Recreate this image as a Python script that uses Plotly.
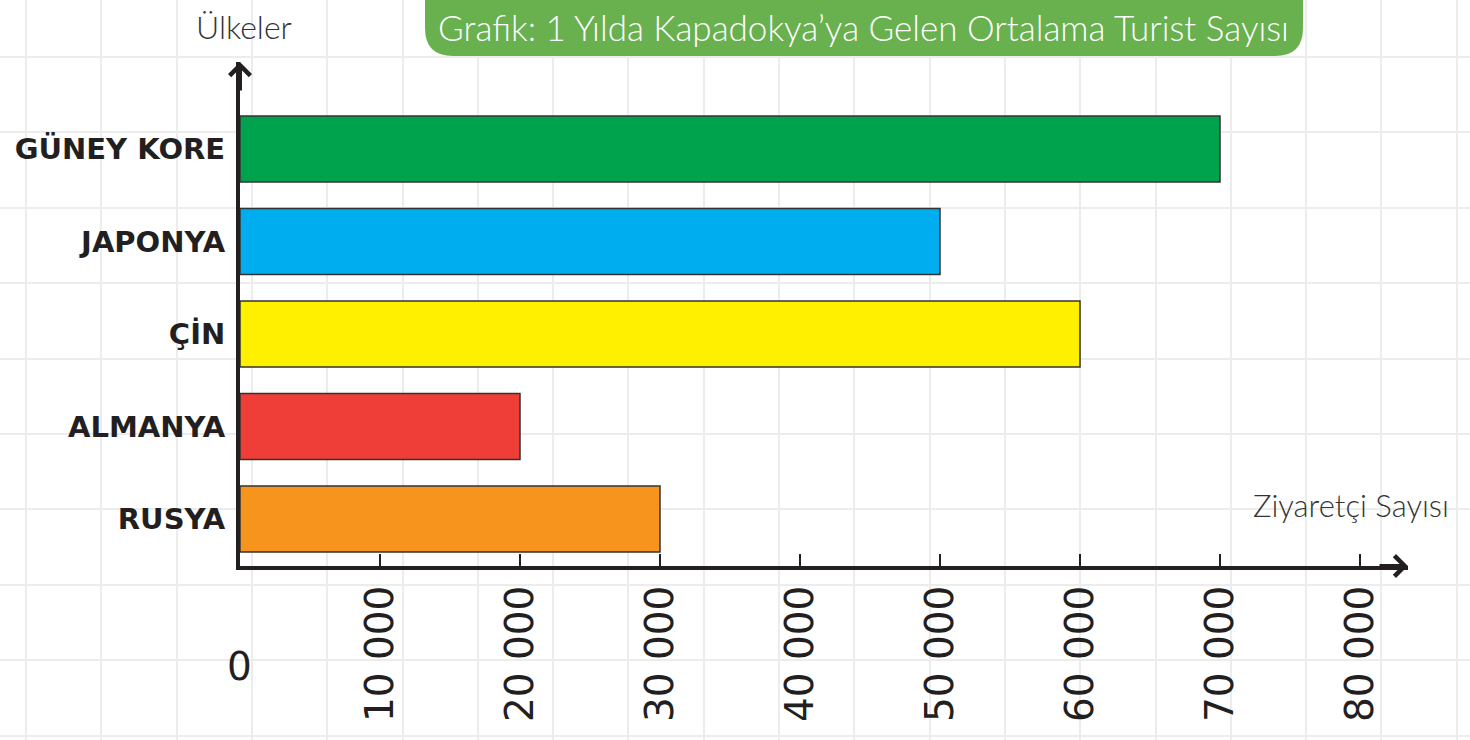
import plotly.graph_objects as go

# ---- data ----
countries = ["RUSYA", "ALMANYA", "ÇİN", "JAPONYA", "GÜNEY KORE"]
visitors = [30000, 20000, 60000, 50000, 70000]
bar_colors = ["#f7941d", "#ef3e37", "#fff000", "#00aeef", "#00a34d"]
tick_values = [10000, 20000, 30000, 40000, 50000, 60000, 70000, 80000]
tick_labels = ["10 000", "20 000", "30 000", "40 000", "50 000", "60 000", "70 000", "80 000"]
title_text = "Grafik: 1 Yılda Kapadokya’ya Gelen Ortalama Turist Sayısı"
y_title = "Ülkeler"
x_title = "Ziyaretçi Sayısı"

W, H = 1470, 740
INK = "#231f20"

def px(x):
    return x / W

def py(y):
    return 1 - y / H

fig = go.Figure()

# background grid (paper "graph paper") on first axes pair
fig.add_trace(go.Scatter(x=[None], y=[None], xaxis="x", yaxis="y", showlegend=False, hoverinfo="skip"))

# bars on second axes pair
fig.add_trace(go.Bar(
    x=visitors, y=countries, orientation="h",
    marker=dict(color=bar_colors, line=dict(color="#333333", width=1.5)),
    xaxis="x2", yaxis="y2", showlegend=False, width=0.715,
))

x_domain = [px(240), px(1408)]
y_domain = [py(566), py(62)]
x_max = (1408 - 240) / 140 * 10000

fig.update_layout(
    width=W, height=H,
    margin=dict(l=0, r=0, t=0, b=0),
    paper_bgcolor="white",
    plot_bgcolor="rgba(0,0,0,0)",
    xaxis=dict(domain=[0, 1], range=[0, W], tick0=26, dtick=75.3, showgrid=True,
               gridcolor="#ececec", gridwidth=2, zeroline=False, showticklabels=False,
               fixedrange=True),
    yaxis=dict(domain=[0, 1], range=[H, 0], tick0=57, dtick=75.4, showgrid=True,
               gridcolor="#ececec", gridwidth=2, zeroline=False, showticklabels=False,
               fixedrange=True),
    xaxis2=dict(domain=x_domain, range=[0, x_max], anchor="y2",
                tickvals=tick_values, ticktext=tick_labels, tickangle=-90,
                ticks="inside", ticklen=12, tickwidth=2, tickcolor=INK,
                showline=True, linewidth=4, linecolor=INK,
                showgrid=False, zeroline=False,
                tickfont=dict(family="DejaVu Sans", size=39, color=INK),
                ticklabelstandoff=0),
    yaxis2=dict(domain=y_domain, range=[-0.508, 4.94], anchor="x2",
                type="category", categoryorder="array", categoryarray=countries,
                showline=True, linewidth=4, linecolor=INK, ticks="",
                showgrid=False, zeroline=False,
                tickfont=dict(family="DejaVu Sans", size=29, color=INK, weight="bold"),
                ticklabelstandoff=5),
    bargap=0.285,
)

# title box with rounded bottom corners
x0, x1 = px(425), px(1303)
yb, yt = py(56), py(-20)
rx, ry = 28 / W, 28 / H
path = (f"M {x0},{yt} L {x0},{yb + ry} Q {x0},{yb} {x0 + rx},{yb} "
        f"L {x1 - rx},{yb} Q {x1},{yb} {x1},{yb + ry} L {x1},{yt} Z")
fig.add_shape(type="path", path=path, xref="paper", yref="paper",
              fillcolor="#69b04f", line=dict(width=0), layer="above")

fig.add_annotation(text=title_text, x=px(863), y=py(27), xref="paper", yref="paper",
                   showarrow=False, font=dict(family="Lato", size=35, color="white", weight=300),
                   xanchor="center", yanchor="middle")

# axis titles
fig.add_annotation(text=y_title, x=px(244), y=py(27), xref="paper", yref="paper",
                   showarrow=False, font=dict(family="Lato", size=32, color="#333333", weight=300),
                   xanchor="center", yanchor="middle")
fig.add_annotation(text=x_title, x=px(1451), y=py(505), xref="paper", yref="paper",
                   showarrow=False, font=dict(family="Lato", size=31, color="#333333", weight=300),
                   xanchor="right", yanchor="middle")

# zero label
fig.add_annotation(text="0", x=0, y=py(666), xref="x2", yref="paper",
                   showarrow=False, font=dict(family="DejaVu Sans", size=39, color=INK),
                   xanchor="center", yanchor="middle")

# arrow heads on axes
fig.add_annotation(x=1, y=0, xref="x2 domain", yref="y2 domain", ax=-30, ay=0,
                   text="", showarrow=True, arrowhead=4, arrowsize=1, arrowwidth=4,
                   arrowcolor=INK)
fig.add_annotation(x=0, y=1, xref="x2 domain", yref="y2 domain", ax=0, ay=30,
                   text="", showarrow=True, arrowhead=4, arrowsize=1, arrowwidth=4,
                   arrowcolor=INK)

fig.write_html("out.html", config={"displayModeBar": False},
               post_script="document.body.style.margin='0';document.body.style.overflow='hidden';")
